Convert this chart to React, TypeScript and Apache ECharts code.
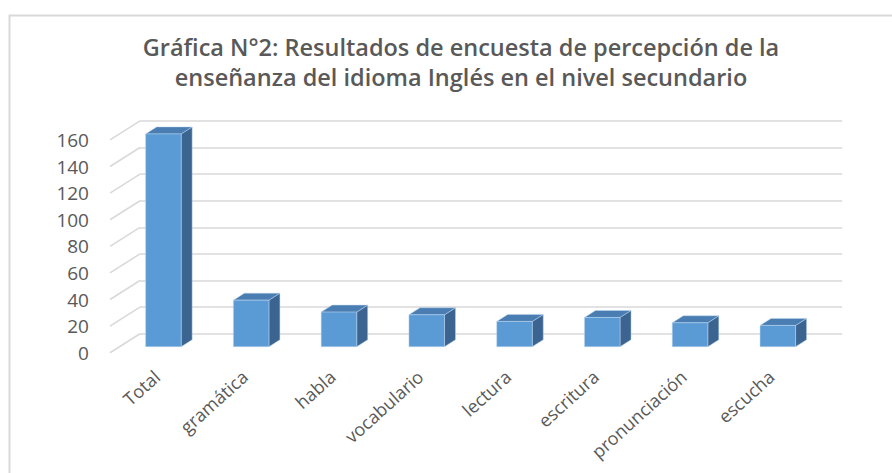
import { useEffect, useRef } from "react";
import * as echarts from "echarts";

const categories = ["Total", "gramática", "habla", "vocabulario", "lectura", "escritura", "pronunciación", "escucha"];
const values = [160, 35, 26, 24, 19, 22, 18, 16];
const yTicks = [0, 20, 40, 60, 80, 100, 120, 140, 160];
const titleLines = [
  "Gráfica N°2: Resultados de encuesta de percepción de la",
  "enseñanza del idioma Inglés en el nivel secundario",
];

const Y_MIN = 0;
const Y_MAX = 160;
const Y_INTERVAL = 20;

// layout (pixels)
const BAR_LEFT = 119.5;
const BAR_TOP = 133.9;
const PLOT_W = 702.2;
const PLOT_H = 212.8;
const FLOOR_DX = 30;
const FLOOR_DY = -19;
const BAR_FRAC = 0.317;
const BAR_DX = 11;
const BAR_DY = -7;
const BAR_WIDTH_RATIO = 0.405;
const LABEL_SHIFT_X = -6.5;

const FRONT_LEFT = BAR_LEFT - FLOOR_DX * BAR_FRAC;
const FRONT_TOP = BAR_TOP - FLOOR_DY * BAR_FRAC;
const BACK_LEFT = BAR_LEFT + FLOOR_DX * (1 - BAR_FRAC);
const BACK_TOP = BAR_TOP + FLOOR_DY * (1 - BAR_FRAC);

const C_FRONT = "#5b9bd5";
const C_TOP = "#4a7eb2";
const C_SIDE = "#3b6590";
const C_GRID = "#d9d9d9";
const C_TEXT = "#595959";
const FONT = "'Open Sans', 'DejaVu Sans', sans-serif";

export default function App() {
  const ref = useRef<HTMLDivElement>(null);
  useEffect(() => {
    if (!ref.current) return;
    const chart = echarts.init(ref.current, undefined, { renderer: "svg" });
    const mkGrid = (left: number, top: number) => ({ left, top, width: PLOT_W, height: PLOT_H, containLabel: false });
    const hiddenX = (gridIndex: number) => ({
      type: "category", gridIndex, data: categories, boundaryGap: true,
      axisLine: { show: false }, axisTick: { show: false }, axisLabel: { show: false }, splitLine: { show: false },
    });
    const yBase = (gridIndex: number) => ({
      type: "value", gridIndex, min: Y_MIN, max: Y_MAX, interval: Y_INTERVAL,
      axisLine: { show: false }, axisTick: { show: false },
    });
    chart.setOption({
      animation: false,
      backgroundColor: "#ffffff",
      title: {
        text: titleLines.join("\n"),
        left: 456,
        top: 27,
        textAlign: "center",
        textStyle: { fontFamily: FONT, fontSize: 23.5, fontWeight: 600, color: C_TEXT, lineHeight: 30 },
      },
      graphic: [
        { type: "rect", left: 7, top: 13, shape: { width: 900, height: 500 }, style: { fill: "none", stroke: C_GRID, lineWidth: 2 }, silent: true, z: -10 },
      ],
      grid: [
        mkGrid(BAR_LEFT, BAR_TOP),
        mkGrid(BACK_LEFT, BACK_TOP),
        mkGrid(FRONT_LEFT, FRONT_TOP),
        mkGrid(BAR_LEFT + LABEL_SHIFT_X, BAR_TOP),
      ],
      xAxis: [
        hiddenX(0),
        hiddenX(1),
        hiddenX(2),
        {
          type: "category", gridIndex: 3, data: categories, boundaryGap: true,
          axisLine: { show: false }, axisTick: { show: false }, splitLine: { show: false },
          axisLabel: { show: true, rotate: 42, margin: 27, interval: 0, color: C_TEXT, fontFamily: FONT, fontSize: 18 },
        },
      ],
      yAxis: [
        { ...yBase(0), axisLabel: { show: false }, splitLine: { show: false } },
        { ...yBase(1), axisLabel: { show: false }, splitLine: { show: true, lineStyle: { color: C_GRID, width: 1.6 } } },
        { ...yBase(2), axisLabel: { show: true, margin: 21, color: C_TEXT, fontFamily: FONT, fontSize: 19 }, splitLine: { show: false } },
        { ...yBase(3), show: false },
      ],
      series: [
        {
          type: "custom",
          name: "diagonals",
          xAxisIndex: 2,
          yAxisIndex: 2,
          silent: true,
          z: 1,
          data: yTicks.map((t) => [0, t]),
          encode: { x: 0, y: 1 },
          renderItem: (params: any, api: any) => {
            const p = api.coord([0, api.value(1)]);
            const x = params.coordSys.x;
            return {
              type: "line",
              shape: { x1: x, y1: p[1], x2: x + FLOOR_DX, y2: p[1] + FLOOR_DY },
              style: { stroke: C_GRID, lineWidth: 1.6 },
            };
          },
        },
        {
          type: "custom",
          name: "Encuesta",
          xAxisIndex: 0,
          yAxisIndex: 0,
          z: 3,
          data: values.map((v, i) => [i, v]),
          encode: { x: 0, y: 1 },
          renderItem: (_params: any, api: any) => {
            const idx = api.value(0);
            const v = api.value(1);
            const top = api.coord([idx, v]);
            const base = api.coord([idx, 0]);
            const bw = api.size([1, 0])[0] * BAR_WIDTH_RATIO;
            const x0 = top[0] - bw / 2;
            const x1 = top[0] + bw / 2;
            const yT = top[1];
            const yB = base[1];
            const edge = { stroke: "rgba(190,215,240,0.6)", lineWidth: 0.8 };
            return {
              type: "group",
              children: [
                {
                  type: "polygon",
                  shape: { points: [[x1, yT], [x1 + BAR_DX, yT + BAR_DY], [x1 + BAR_DX, yB + BAR_DY], [x1, yB]] },
                  style: { fill: C_SIDE, ...edge },
                },
                {
                  type: "polygon",
                  shape: { points: [[x0, yT], [x1, yT], [x1 + BAR_DX, yT + BAR_DY], [x0 + BAR_DX, yT + BAR_DY]] },
                  style: { fill: C_TOP, ...edge },
                },
                {
                  type: "rect",
                  shape: { x: x0, y: yT, width: bw, height: yB - yT },
                  style: { fill: C_FRONT, ...edge },
                },
              ],
            };
          },
        },
      ],
    });
    return () => chart.dispose();
  }, []);
  return <div ref={ref} style={{ position: "fixed", left: 0, top: 0, width: 892, height: 473 }} />;
}
